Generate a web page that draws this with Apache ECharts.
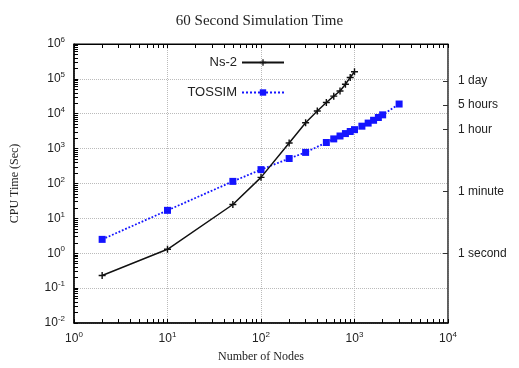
<!DOCTYPE html>
<html lang="en">
<head>
    <meta charset="UTF-8">
    <title>60 Second Simulation Time</title>
    <script src="https://cdn.jsdelivr.net/npm/echarts@6/dist/echarts.min.js"></script>
    <style>
        html, body { margin: 0; padding: 0; background: #fff; }
    </style>
</head>
<body>
    <div id="box" style="width: 519px; height: 368px;"></div>
    <script>
        // (log-log plot)
        var ns2Nodes = [2, 10, 50, 100, 200, 300, 400, 500, 600, 700, 800, 900, 1000];
        var ns2Time = [0.23, 1.3, 25, 150, 1450, 5500, 12000, 21000, 32000, 45000, 70000, 110000, 160000];

        var tossimNodes = [2, 10, 50, 100, 200, 300, 500, 600, 700, 800, 900, 1000, 1200, 1400, 1600, 1800, 2000, 3000];
        var tossimTime = [2.5, 17, 115, 250, 520, 780, 1500, 1900, 2300, 2700, 3100, 3500, 4400, 5400, 6500, 7800, 9300, 19000];

        // right hand axis: wall-clock equivalents in seconds
        var timeValues = [1, 60, 3600, 18000, 86400];
        var timeNames = ['1 second', '1 minute', '1 hour', '5 hours', '1 day'];

        // tick marks 1..9 x 10^k between two decades
        function logTicks(lo, hi) {
            var out = [];
            for (var k = lo; k < hi; k++) {
                for (var m = 1; m < 10; m++) out.push(+(m * Math.pow(10, k)).toPrecision(3));
            }
            out.push(Math.pow(10, hi));
            return out;
        }

        function powLabel(v) {
            var e = Math.round(Math.log10(v));
            return '10{sup|' + e + '}';
        }

        var sans = 'Liberation Sans';
        var serif = 'Liberation Serif';
        var labelRich = {
            sup: { fontSize: 8, fontFamily: sans, color: '#222', padding: [0, 0, 8, 0] }
        };

        function pairs(xs, ys) {
            return xs.map(function (x, i) { return [x, ys[i]]; });
        }

        var plus = 'path://M4,0h2v4h4v2h-4v4h-2v-4h-4v-2h4z';
        var grid = { type: 'dotted', color: '#bbb' };
        var hidden = { axisLine: { show: false }, axisTick: { show: false }, axisLabel: { show: false } };

        var myEcharts = echarts.init(document.getElementById('box'));
        myEcharts.setOption({
            animation: false,
            title: {
                text: '60 Second Simulation Time',
                left: 'center',
                top: 9,
                textStyle: { fontFamily: serif, fontWeight: 'normal', fontSize: 15, color: '#222' }
            },
            legend: [
                {
                    data: ['Ns-2'], top: 51, right: 229, align: 'right',
                    itemWidth: 42, itemHeight: 8,
                    textStyle: { fontFamily: sans, fontSize: 13, color: '#222' }
                },
                {
                    data: ['TOSSIM'], top: 81, right: 229, align: 'right',
                    itemWidth: 42, itemHeight: 8,
                    textStyle: { fontFamily: sans, fontSize: 13, color: '#222' }
                }
            ],
            grid: {
                left: 74, right: 71, top: 44, bottom: 44,
                show: true, borderColor: '#000', borderWidth: 1
            },
            xAxis: [
                {
                    type: 'log', logBase: 10, min: 1, max: 10000, interval: 1,
                    name: 'Number of Nodes', nameLocation: 'middle', nameGap: 28,
                    nameTextStyle: { fontFamily: serif, fontSize: 12, color: '#222' },
                    axisLine: { lineStyle: { color: '#000', width: 1.5 } },
                    axisTick: { inside: true, length: 4, customValues: logTicks(0, 4), lineStyle: { color: '#000' } },
                    axisLabel: { formatter: powLabel, rich: labelRich, fontFamily: sans, fontSize: 12, color: '#222', margin: 8 },
                    splitLine: { show: false }
                },
                {
                    type: 'log', logBase: 10, min: 1, max: 10000, interval: 1, position: 'top',
                    axisLine: { lineStyle: { color: '#000' } },
                    axisTick: { inside: true, length: 4, customValues: logTicks(0, 4), lineStyle: { color: '#000' } },
                    axisLabel: { show: false },
                    splitLine: { show: false }
                },
                Object.assign({
                    type: 'log', logBase: 10, min: 1, max: 10000, interval: 1,
                    splitLine: { show: true, lineStyle: grid }
                }, hidden)
            ],
            yAxis: [
                {
                    type: 'log', logBase: 10, min: 0.01, max: 1000000, interval: 1,
                    name: 'CPU Time (Sec)', nameLocation: 'middle', nameGap: 53,
                    nameTextStyle: { fontFamily: serif, fontSize: 12, color: '#222' },
                    axisLine: { lineStyle: { color: '#000', width: 1.5 } },
                    axisTick: { inside: true, length: 4, customValues: logTicks(-2, 6), lineStyle: { color: '#000' } },
                    axisLabel: { formatter: powLabel, rich: labelRich, fontFamily: sans, fontSize: 12, color: '#222', margin: 9 },
                    splitLine: { show: false }
                },
                {
                    type: 'log', logBase: 10, min: 0.01, max: 1000000, position: 'right',
                    axisLine: { show: true, lineStyle: { color: '#555', width: 1.5 } },
                    axisTick: { inside: true, length: 5, customValues: timeValues, lineStyle: { color: '#333' } },
                    axisLabel: {
                        customValues: timeValues,
                        fontFamily: sans, fontSize: 12, color: '#222', margin: 10,
                        formatter: function (v) {
                            var i = timeValues.indexOf(Math.round(v));
                            return i >= 0 ? timeNames[i] : '';
                        }
                    },
                    splitLine: { show: false }
                },
                Object.assign({
                    type: 'log', logBase: 10, min: 0.01, max: 1000000, interval: 1, position: 'left',
                    splitLine: { show: true, lineStyle: grid }
                }, hidden)
            ],
            series: [
                {
                    name: 'Ns-2', type: 'line',
                    data: pairs(ns2Nodes, ns2Time),
                    symbol: plus, symbolSize: 7,
                    itemStyle: { color: '#111' },
                    lineStyle: { color: '#111', width: 1.5 },
                    z: 3
                },
                {
                    name: 'TOSSIM', type: 'line',
                    data: pairs(tossimNodes, tossimTime),
                    symbol: 'rect', symbolSize: 7,
                    itemStyle: { color: '#1414ff' },
                    lineStyle: { color: '#1414ff', width: 1.8, type: 'dotted' },
                    z: 2
                }
            ]
        });
    </script>
</body>
</html>
